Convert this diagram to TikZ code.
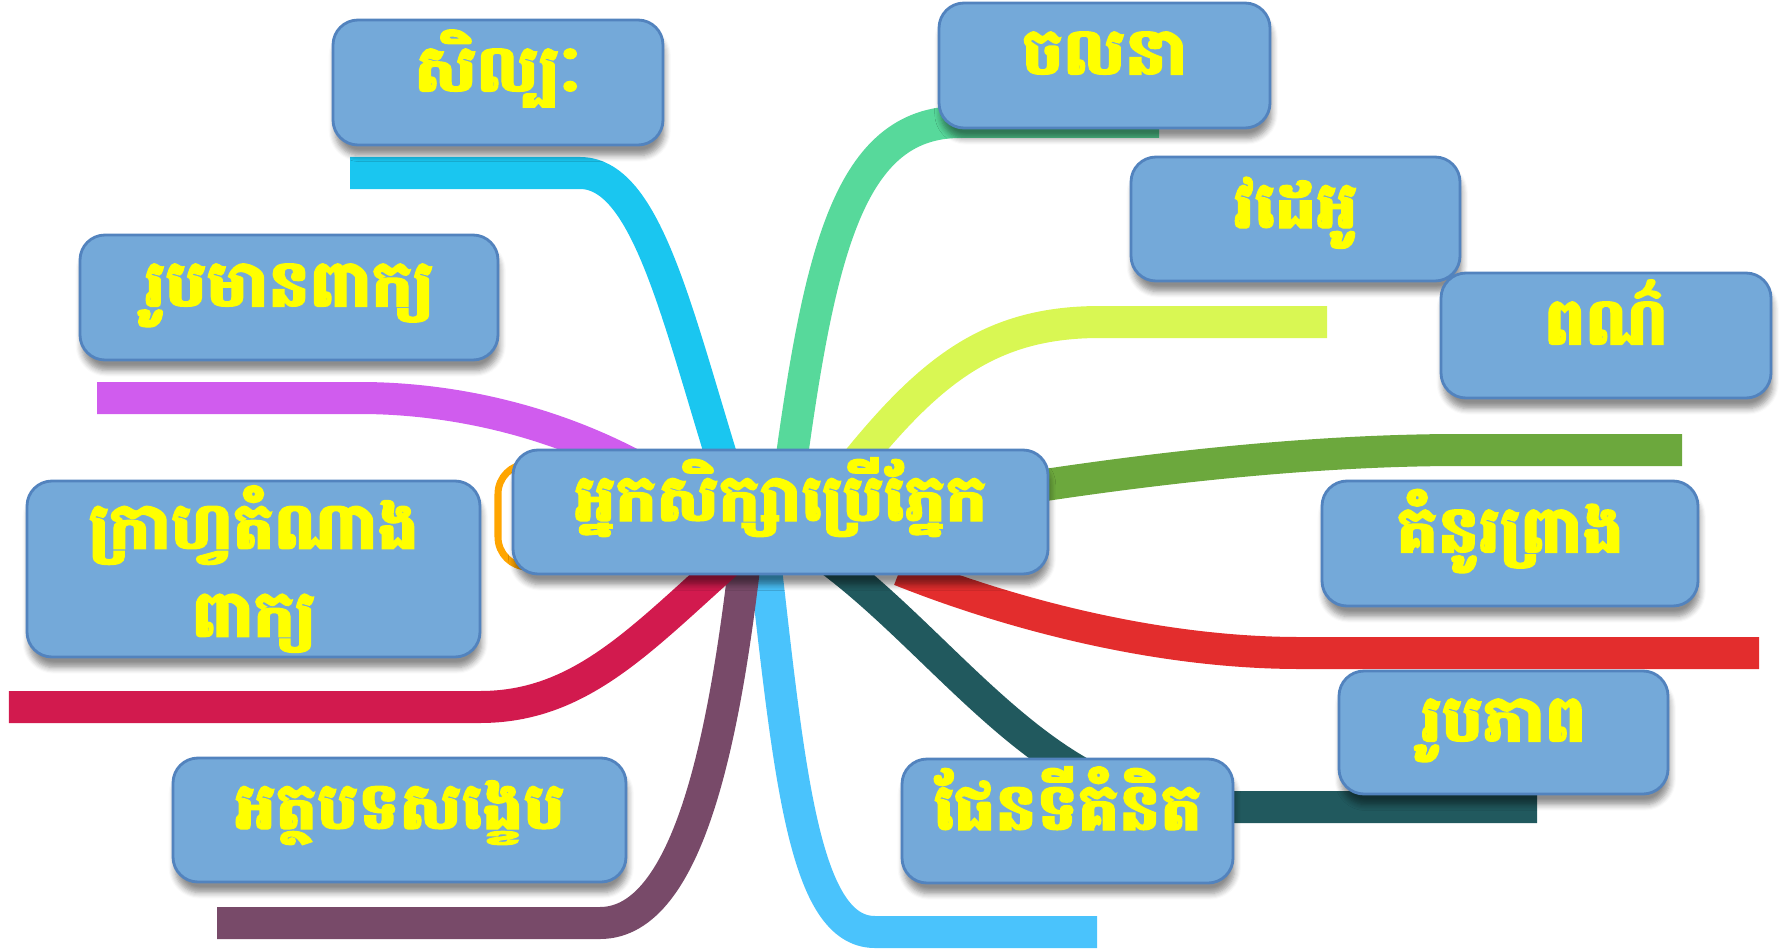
\documentclass[tikz,border=0pt]{standalone}
\usepackage{fontspec}
\newfontfamily\khfont[Script=Khmer,BoldFeatures={FakeBold=1.6}]{Battambang}
\usetikzlibrary{shadows.blur,backgrounds}
\definecolor{boxfill}{RGB}{116,169,217}
\definecolor{boxline}{RGB}{82,131,190}
\definecolor{kyellow}{RGB}{255,255,0}
\definecolor{cyanbr}{RGB}{26,198,240}
\definecolor{greenbr}{RGB}{87,217,155}
\definecolor{limebr}{RGB}{217,247,83}
\definecolor{olivebr}{RGB}{108,168,61}
\definecolor{redbr}{RGB}{227,45,45}
\definecolor{tealbr}{RGB}{33,89,94}
\definecolor{skybr}{RGB}{74,195,252}
\definecolor{plumbr}{RGB}{120,74,105}
\definecolor{crimbr}{RGB}{210,26,78}
\definecolor{magbr}{RGB}{208,92,238}
\definecolor{ringor}{RGB}{255,165,0}
\begin{document}
\begin{tikzpicture}[inner sep=0pt,outer sep=0pt,
leaf/.style={draw=boxline,fill=boxfill,line width=0.8pt,rounded corners=0.25cm,minimum height=1.25cm,align=center,text=kyellow,font=\khfont\bfseries\fontsize{18.5}{25}\selectfont,text height=0.42cm,text depth=0.24cm,blur shadow={shadow xshift=0.5pt,shadow yshift=-3pt,shadow blur steps=6,shadow opacity=45}},
limb/.style={line width=0.32cm}]
\useasboundingbox (0,0) rectangle (17.82,-9.5);
\draw[ringor,line width=2pt,rounded corners=0.3cm] (4.98,-4.64) rectangle (10.0,-5.67);
\draw (4.98,-0.825) node[leaf,minimum width=3.3cm] (art) {សិល្បៈ};
\draw (11.045,-0.655) node[leaf,minimum width=3.31cm] (motion) {ចលនា};
\draw (12.955,-2.19) node[leaf,minimum width=3.29cm,minimum height=1.24cm] (video) {វដេអូ};
\draw (16.06,-3.355) node[leaf,minimum width=3.3cm] (colour) {ពណ៌};
\draw (2.89,-2.975) node[leaf,minimum width=4.18cm] (wordpic) {រូបមានពាក្យ};
\draw (2.535,-5.69) node[leaf,minimum width=4.53cm,minimum height=1.76cm,text height=,text depth=] (graphw) {ក្រាហ្វតំណាង\\ពាក្យ};
\draw (7.805,-5.12) node[leaf,minimum width=5.35cm,minimum height=1.24cm] (learn) {អ្នកសិក្សាប្រើភ្នែក};
\draw (15.1,-5.435) node[leaf,minimum width=3.76cm] (sketch) {គំនូរព្រាង};
\draw (15.035,-7.325) node[leaf,minimum width=3.29cm,minimum height=1.23cm] (photo) {រូបភាព};
\draw (3.995,-8.2) node[leaf,minimum width=4.53cm,minimum height=1.24cm] (summary) {អត្ថបទសង្ខេប};
\draw (10.675,-8.21) node[leaf,minimum width=3.31cm,minimum height=1.24cm] (mindmap) {ផែនទីគំនិត};
\coordinate (artend) at (3.5,-1.73);
\coordinate (motionend) at (11.59,-1.22);
\coordinate (videoend) at (13.27,-3.22);
\coordinate (colourend) at (16.82,-4.5);
\coordinate (sketchend) at (17.59,-6.53);
\coordinate (photoend) at (15.37,-8.07);
\coordinate (mindmapend) at (10.97,-9.32);
\coordinate (summaryend) at (2.17,-9.23);
\coordinate (graphwend) at (0.09,-7.07);
\coordinate (wordpicend) at (0.97,-3.98);
\begin{pgfonlayer}{background}
\draw[limb,cyanbr] ([xshift=-4.55mm,yshift=1.2mm]learn.center) .. controls (6.8,-3.3) and (6.5,-1.73) .. (5.8,-1.73) -- (artend);
\draw[limb,greenbr] ([xshift=0.95mm,yshift=4.2mm]learn.center) .. controls (8.2,-2.5) and (8.5,-1.22) .. (9.6,-1.22) -- (motionend);
\draw[limb,limebr] ([xshift=6.95mm,yshift=4.2mm]learn.center) .. controls (9.3,-3.7) and (9.9,-3.22) .. (11.0,-3.22) -- (videoend);
\draw[limb,olivebr] ([xshift=21.95mm,yshift=2mm]learn.center) .. controls (12.0,-4.6) and (13.5,-4.5) .. (14.6,-4.5) -- (colourend);
\draw[limb,redbr] ([xshift=11.95mm,yshift=-5.8mm]learn.center) .. controls (10.0,-6.1) and (11.5,-6.53) .. (13.0,-6.53) -- (sketchend);
\draw[limb,tealbr] ([xshift=4.95mm,yshift=-4.8mm]learn.center) .. controls (9.5,-6.5) and (10.5,-8.07) .. (12.0,-8.07) -- (photoend);
\draw[limb,skybr] ([xshift=-1.55mm,yshift=-4.8mm]learn.center) .. controls (7.9,-7.8) and (8.05,-9.32) .. (8.75,-9.32) -- (mindmapend);
\draw[limb,plumbr] ([xshift=-3.55mm,yshift=-4.8mm]learn.center) .. controls (7.25,-7.3) and (6.9,-9.23) .. (6.0,-9.23) -- (summaryend);
\draw[limb,crimbr] ([xshift=-5.05mm,yshift=-4.8mm]learn.center) .. controls (6.4,-6.4) and (5.8,-7.07) .. (4.8,-7.07) -- (graphwend);
\draw[limb,magbr] ([xshift=-12.05mm,yshift=3.2mm]learn.center) .. controls (5.6,-4.2) and (4.5,-3.98) .. (3.6,-3.98) -- (wordpicend);
\end{pgfonlayer}
\end{tikzpicture}
\end{document}
